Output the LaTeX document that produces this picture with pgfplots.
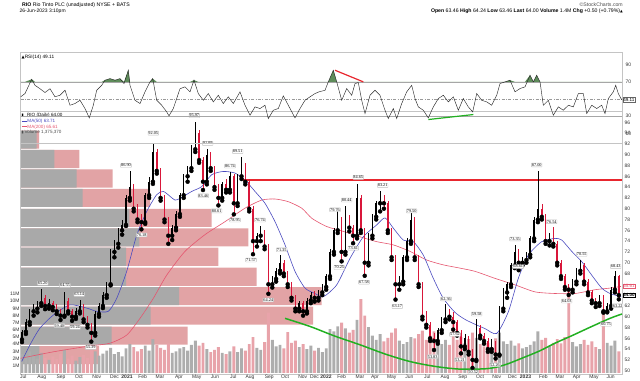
\documentclass[border=0pt]{standalone}
\usepackage{fontspec}
\setmainfont{Liberation Sans}
\newfontfamily\serif{Liberation Serif}
\newfontfamily\sym{DejaVu Sans}
\usepackage{pgfplots}
\pgfplotsset{compat=1.18}
\usepackage{pgfplotstable}
\definecolor{dnc}{HTML}{D9173A}
\definecolor{volg}{HTML}{ADADAD}
\definecolor{volp}{HTML}{E8A3AA}
\definecolor{profg}{HTML}{A9A9A9}
\definecolor{profp}{HTML}{E2A3A5}
\definecolor{ma50}{HTML}{4A4ABF}
\definecolor{ma200}{HTML}{E5566F}
\definecolor{frame}{HTML}{C4C4C4}
\definecolor{rsig}{HTML}{5E8C5A}
\definecolor{trendg}{HTML}{22B022}
\definecolor{trendr}{HTML}{E8262E}
\newcommand\fs[1]{\fontsize{#1}{#1}\selectfont}

\pgfplotstableread{
x o h l c v
22.0 55.8 57.6 55.3 57.2 2.6
25.9 57.2 59.6 56.8 59.0 2.2
29.7 59.0 61.5 58.5 61.0 3.0
33.6 61.0 62.3 60.2 61.5 2.4
37.4 61.5 63.0 60.8 62.5 2.0
41.3 62.5 65.2 62.0 63.5 2.8
49.0 62.0 63.3 61.5 62.5 1.8
64.4 60.2 64.55 60.0 63.0 3.2
75.9 60.0 61.6 59.6 61.0 1.7
79.8 61.0 63.14 60.6 62.0 2.2
95.2 57.0 61.0 56.5 60.5 3.0
99.0 60.5 62.5 60.0 62.0 2.4
102.9 62.0 64.5 61.6 64.0 2.7
106.7 64.0 66.5 63.5 66.0 3.1
110.6 66.0 72.5 65.8 72.0 3.5
114.4 72.0 74.2 71.0 73.5 2.6
118.3 73.5 76.5 72.8 76.0 2.9
122.1 76.0 78.0 75.2 77.0 2.3
126.0 77.0 82.5 76.8 82.0 3.4
129.8 82.0 86.9 81.5 84.0 4.0
145.2 77.5 83.0 77.2 82.5 3.8
149.1 82.5 85.8 82.0 85.0 3.1
152.9 85.0 92.05 84.6 90.5 4.7
172.2 75.0 77.0 74.2 76.5 2.8
176.0 76.5 79.5 76.0 79.0 3.0
179.9 79.0 83.0 78.5 82.5 3.4
183.7 82.5 86.5 82.0 86.0 3.6
187.6 86.0 88.0 85.0 87.5 3.1
191.4 87.5 91.8 87.0 91.0 3.9
195.3 91.0 95.97 90.5 94.0 4.5
206.8 85.0 91.09 84.5 90.0 3.3
222.2 82.0 85.0 81.5 84.5 2.8
229.9 83.5 86.74 83.0 86.0 3.0
237.6 81.0 86.5 80.5 86.0 2.9
241.5 86.0 89.51 85.5 88.0 3.4
256.9 74.0 75.5 73.0 75.0 3.5
260.7 75.0 76.74 74.0 75.5 3.2
272.3 66.0 67.6 65.4 67.0 4.6
276.1 67.0 69.0 66.5 68.5 3.7
280.0 68.5 71.35 68.0 70.0 3.9
299.2 61.5 63.0 61.0 62.5 3.6
306.9 61.0 63.5 60.6 63.0 3.3
310.8 63.0 64.6 62.5 64.0 3.8
318.5 63.5 65.0 63.0 64.5 3.5
322.3 64.5 66.0 64.0 65.5 2.9
326.2 65.5 68.0 65.0 67.5 3.4
330.0 67.5 72.5 67.0 72.0 6.1
333.9 72.0 76.5 71.5 76.0 5.8
337.7 76.0 79.76 75.5 78.0 6.5
345.4 72.0 80.44 71.5 78.0 6.2
357.0 75.0 84.65 74.5 82.0 7.4
368.5 70.0 75.5 69.5 75.0 6.4
372.4 75.0 79.0 74.5 78.5 5.2
376.2 78.5 81.5 78.0 81.0 4.6
380.1 81.0 83.21 79.5 81.5 5.4
399.3 66.0 67.5 65.0 66.5 4.5
403.2 66.5 71.5 66.0 71.0 4.0
407.0 71.0 74.5 70.5 74.0 4.3
410.9 74.0 79.5 73.5 78.0 5.0
437.8 55.5 58.0 55.0 57.5 4.3
441.7 57.5 60.0 57.0 59.5 4.0
445.5 59.5 62.36 59.0 61.0 4.6
464.8 54.5 56.8 54.0 56.0 4.1
476.3 52.0 59.58 51.8 58.0 4.9
491.7 54.0 55.8 53.5 55.0 3.6
499.4 53.0 62.0 52.8 61.5 5.6
503.3 61.5 65.3 61.0 64.5 4.4
507.1 64.5 66.5 63.5 66.0 4.0
511.0 66.0 70.0 65.5 69.5 4.5
514.8 69.5 73.35 69.0 72.0 3.8
522.5 70.0 71.0 69.5 70.5 3.4
526.4 70.5 72.0 70.0 71.5 3.6
530.2 71.5 75.0 71.0 74.5 3.9
534.1 74.5 78.5 74.0 78.0 4.4
537.9 78.0 87.00 77.5 80.0 5.8
549.5 74.0 75.5 73.2 74.5 3.8
572.6 65.0 67.0 64.5 66.5 4.3
576.4 66.5 69.0 66.0 68.5 3.7
580.3 68.5 70.55 68.0 69.5 4.0
599.5 62.5 64.0 62.0 63.5 3.3
607.2 61.0 62.5 60.8 62.0 4.2
611.1 62.0 65.5 61.5 65.0 3.8
614.9 65.0 68.43 64.5 67.5 4.5
}\tabup

\pgfplotstableread{
x o h l c v
45.1 63.5 64.0 61.4 62.0 2.1
52.8 62.5 63.0 61.2 61.8 2.3
56.7 61.8 62.4 60.5 61.0 1.9
60.5 61.0 61.5 59.4 60.2 2.6
68.2 63.0 63.4 60.6 61.0 2.0
72.1 61.0 61.4 59.24 60.0 2.4
83.6 62.0 62.3 59.0 59.5 2.5
87.5 59.5 60.2 58.0 58.5 2.1
91.3 58.5 58.9 55.39 57.0 3.8
133.7 84.0 84.5 79.5 80.0 3.6
137.5 80.0 80.8 77.5 78.0 3.0
141.4 78.0 79.0 76.18 77.5 3.3
156.8 90.5 91.0 86.5 87.0 3.9
160.6 87.0 87.5 81.5 82.0 3.5
164.5 82.0 82.5 77.5 78.0 3.2
168.3 78.0 78.5 73.5 75.0 4.1
199.1 94.0 94.5 88.5 89.0 3.8
203.0 89.0 89.5 83.46 85.0 4.2
210.7 90.0 90.5 87.0 87.5 2.9
214.5 87.5 88.0 83.5 84.0 3.2
218.4 84.0 84.5 80.61 82.0 3.6
226.1 84.5 85.5 83.0 83.5 2.6
233.8 86.0 86.4 78.95 81.0 3.7
245.3 88.0 88.5 84.5 85.0 3.1
249.2 85.0 85.5 79.5 80.0 4.0
253.0 80.0 80.5 71.57 74.0 5.0
264.6 75.5 76.0 72.5 73.0 4.3
268.4 73.0 73.5 64.24 66.0 8.4
283.8 70.0 70.5 67.5 68.0 3.4
287.7 68.0 68.5 65.5 66.0 5.7
291.5 66.0 66.5 63.0 63.5 4.2
295.4 63.5 64.0 61.0 61.5 4.5
303.1 62.5 63.0 60.2 61.0 4.0
314.6 64.0 64.8 62.8 63.5 3.1
341.6 78.0 78.5 70.25 72.0 7.0
349.3 78.0 78.8 75.8 76.5 5.6
353.1 76.5 77.0 73.61 75.0 6.0
360.8 82.0 82.5 75.5 76.0 10.3
364.7 76.0 76.5 67.58 70.0 8.0
383.9 81.5 82.5 80.0 81.0 4.4
387.8 81.0 81.5 75.5 76.0 4.9
391.6 76.0 76.5 70.5 71.0 5.6
395.5 71.0 71.5 63.17 66.0 6.2
414.7 78.0 78.5 70.5 71.0 4.8
418.6 71.0 71.5 65.5 66.0 5.4
422.4 66.0 66.5 59.5 60.0 5.9
426.3 60.0 61.0 58.0 58.5 4.6
430.1 58.5 59.0 55.5 56.0 5.2
434.0 56.0 57.0 53.83 55.5 5.8
449.4 61.0 61.5 59.5 60.0 3.9
453.2 60.0 60.8 57.62 59.0 7.0
457.1 59.0 59.3 56.5 57.0 4.6
460.9 57.0 57.5 53.21 54.5 5.0
468.6 56.0 56.5 53.0 53.5 4.7
472.5 53.5 54.0 50.52 52.0 5.6
480.2 58.0 58.5 56.0 56.5 4.0
484.0 56.5 57.0 55.0 55.5 3.7
487.9 55.5 56.0 53.5 54.0 4.2
495.6 55.0 55.5 52.26 53.0 4.8
518.7 72.0 72.5 68.61 70.0 4.1
541.8 80.0 80.8 78.0 78.5 4.6
545.6 78.5 79.0 73.5 74.0 4.9
553.3 74.5 76.54 73.0 73.5 4.2
557.2 73.5 74.0 69.5 70.0 4.7
561.0 70.0 70.5 67.0 67.5 4.1
564.9 67.5 68.0 65.0 65.5 5.0
568.7 65.5 66.0 64.03 65.0 12.0
584.1 69.5 70.0 66.0 66.5 4.6
588.0 66.5 67.0 64.0 64.5 3.9
591.8 64.5 65.0 62.5 63.0 4.4
595.7 63.0 63.5 61.8 62.5 3.6
603.4 63.5 64.0 60.75 61.0 8.6
618.8 67.5 67.8 63.22 64.0 3.0
}\tabdn

\pgfplotstableread{
p g k
52.9 39.3 99.0
56.5 111.7 187.7
60.2 150.7 313.0
63.8 179.0 321.7
67.4 126.0 256.7
71.1 126.0 218.3
74.7 139.3 248.3
78.3 129.3 211.7
82.0 82.7 150.0
85.6 76.7 112.7
89.2 54.3 79.3
92.8 36.7 39.0
}\tabprof

\pgfplotstableread{
x r
20.7 52.6
25 56.4
31.7 73.0
35 66
40 62
45 57.6
50 62
55 52.6
60 54.5
65 60.3
70 42.8
75 44.8
80 48.6
85 39
89.3 28.1
93.3 42.8
96.7 60.2
101.7 66
105 71.9
110 73.8
115 71.9
120 73.8
124 68
128.3 83.5
130 66
135 48.6
140 44.8
145 58.4
150 70
152.7 73.8
156.7 48.6
161.7 42.8
166.7 35.1
169 30.5
173.3 39
180 62
185 64.2
190 58.4
194 72
198.3 56.4
203.3 48.6
208.3 56.4
213.3 46.7
218.3 54.4
223.3 44.8
228.3 52.6
233.3 44.8
240 58.4
245 42.8
250 31.2
255 40.9
260 39
265 42.8
268.3 27.3
273.3 37
278.3 39
283.3 53.7
288.3 42.8
295 28.1
300 39
305 48.6
310 52.6
315 56.4
319 58.4
325 60.2
328.3 70
333.3 83.5
336.7 70
341.7 48.6
346.7 62.2
351.7 54.4
355 68
358.3 69.2
361.7 48.6
365 33.1
370 54.4
375 60.2
380 54.4
385 37
388.3 27.3
393.3 39
396.7 27.3
401.7 44.8
406.7 58.4
411.7 66
415 50.6
418.3 40.9
423.3 37
428.3 28.1
433.3 40.9
438.3 50.6
443.3 54.4
448.3 46.7
453.3 52.6
458.3 37
463.3 50.6
468.3 40.9
472.7 35.1
476.7 56.4
481.7 48.6
486.7 46.7
491.7 42.8
496.7 54.4
500 68
505 70
510 71.9
515 58.4
520 62.2
525 64.2
530 77.7
533.3 70
536.7 77.7
540 70
543.3 42.8
548.3 48.6
553.3 31.2
558.3 40.9
563.3 37
568.3 42.8
573.3 40.9
578.3 56.4
583.3 56.4
586.7 33.1
591.7 42.8
596.7 39
601.7 42.8
605 33.1
608.3 50.6
613.3 58.4
615.7 66
618.3 56.4
621.7 49.1
}\tabrsi

\pgfplotsset{
  panel/.style={scale only axis, width=601.3bp, xmin=20.7, xmax=622,
    anchor=south west, major tick length=0pt,
    tick label style={font=\fs{5}, text=black!80},
    /pgf/number format/assume math mode=true},
}
\tikzset{
  ann/.style={draw=black!25, fill=white, inner sep=0.5pt, rounded corners=0.4pt,
    font=\serif\fs{4.3}},
}

\begin{document}
\begin{tikzpicture}[x=1bp,y=1bp]
\path[use as bounding box] (0,0) rectangle (640,380);

% volume profile
\begin{axis}[panel, at={(20.7,10)}, height=263.3bp, ymin=49.28, ymax=98.04, hide axis]
\addplot[xbar, bar width=3.35, fill=profp, draw=none] table[x=k,y=p] \tabprof;
\addplot[xbar, bar width=3.35, fill=profg, draw=none] table[x=g,y=p] \tabprof;
\end{axis}

% volume
\begin{axis}[panel, at={(20.7,10)}, height=263.3bp, ymin=0, ymax=36.77,
  axis line style={draw=none}, xtick=\empty,
  ytick={1,2,3,4,5,6,7,8,9,10,11},
  yticklabels={1M,2M,3M,4M,5M,6M,7M,8M,9M,10M,11M},
  yticklabel style={inner sep=1pt}]
\addplot[ybar, bar width=2.9, fill=volg, draw=none] table[x=x,y=v] \tabup;
\addplot[ybar, bar width=2.9, fill=volp, draw=none] table[x=x,y=v] \tabdn;
\end{axis}

% price
\begin{axis}[panel, at={(20.7,10)}, height=263.3bp, ymin=49.28, ymax=98.04,
  clip mode=individual,
  axis line style={draw=frame, line width=0.5pt},
  ytick={50,52,54,56,58,60,62,68,70,72,74,76,78,80,82,84,86,88,90,92,94,96},
  yticklabel pos=right, yticklabel style={anchor=west, inner sep=1pt, xshift=1.5bp},
  xtick={23.3,41.7,61,79,96.7,114.5,127,142.7,160,179,196.7,215,233.3,250,269.3,285,302.7,314.5,326,341.7,360,375,391.7,409.3,427.3,445,462.7,480,496.7,512.5,525.5,543.3,560,576.7,594,610.7},
  xticklabels={Jul,Aug,Sep,Oct,Nov,Dec,\textbf{2021},Feb,Mar,Apr,May,Jun,Jul,Aug,Sep,Oct,Nov,Dec,\textbf{2022},Feb,Mar,Apr,May,Jun,Jul,Aug,Sep,Oct,Nov,Dec,\textbf{2023},Feb,Mar,Apr,May,Jun},
  xticklabel style={inner sep=1pt, yshift=0.5bp}]
% moving averages
\addplot[ma200, line width=0.6pt, smooth, tension=0.4] coordinates {
(20.7,52.3) (53.3,53.5) (86.7,54.5) (110,55.1) (126.7,56.6) (140,59.7) (153.3,63.4)
(166.7,67.7) (185,72.1) (205,75.2) (225,77.6) (245,80.1) (261.7,81.6) (275,81.8)
(288.3,81.3) (301.7,80.1) (312,78.2) (326.7,76.7) (343.3,75.8) (360,74.8) (376.7,73.9)
(393.3,73.3) (410,72.1) (426.7,70.5) (443.3,69.6) (460,69.0) (475,68.4) (495,67.1)
(515,65.9) (535,64.6) (555,64.3) (575,64.3) (595,65.0) (610,65.3) (621,65.61)};
\addplot[ma50, line width=0.6pt, smooth, tension=0.4] coordinates {
(21.7,51.7) (30,54.8) (40,57.9) (53.3,60.3) (70,62.2) (86.7,61.6) (96.7,61.0)
(108.3,61.0) (116.7,63.4) (126.7,68.4) (136.7,75.1) (146.7,79.5) (156.7,82.6)
(163.3,83.2) (170,82.3) (175,81.6) (180,81.9) (191.7,83.2) (201.7,84.1) (211.7,86.3)
(223.3,86.9) (235,86.6) (245,85.3) (255,83.2) (265,81.0) (275,77.6) (285,73.3)
(295,68.4) (305,65.3) (315,64.3) (323.3,63.7) (336.7,65.9) (350,70.8) (363.3,74.8)
(376.7,77.0) (385,78.3) (393.3,76.4) (403.3,74.2) (413.3,73.9) (423.3,71.4)
(433.3,67.1) (443.3,63.4) (455,60.8) (465,59.5) (475,58.6) (485,57.8) (496.7,56.9)
(508.3,60.9) (518.3,67.1) (528.3,71.4) (541.7,73.9) (555,74.5) (561.7,74.2)
(571.7,72.1) (581.7,70.2) (591.7,67.7) (601.7,65.3) (610,64.3) (621,63.71)};
% trend lines
\addplot[trendr, line width=1.6pt] coordinates {(243,85.3) (622,85.3)};
\addplot[trendg, line width=1.5pt, smooth, tension=0.5] coordinates {
(285,59.7) (310,58.2) (335,56.4) (360,54.8) (385,53.1) (410,51.7) (435,50.8)
(460,50.3) (488,50.4) (505,51.1) (521.7,52.3) (540,53.7) (555,55.1) (572,56.5)
(588.3,57.9) (610,59.7) (622,60.5)};
% candles: wicks
\addplot[only marks, mark=none, error bars/.cd, y dir=plus, y explicit, error mark=none,
  error bar style={draw=black, line width=0.45pt}]
  table[x=x, y=l, y error expr=\thisrow{h}-\thisrow{l}] \tabup;
\addplot[only marks, mark=none, error bars/.cd, y dir=plus, y explicit, error mark=none,
  error bar style={draw=dnc, line width=0.45pt}]
  table[x=x, y=l, y error expr=\thisrow{h}-\thisrow{l}] \tabdn;
% candles: bodies
\addplot[only marks, mark=none, error bars/.cd, y dir=plus, y explicit, error mark=none,
  error bar style={draw=black, line width=1.5pt}]
  table[x=x, y=o, y error expr=\thisrow{c}-\thisrow{o}] \tabup;
\addplot[only marks, mark=none, error bars/.cd, y dir=plus, y explicit, error mark=none,
  error bar style={draw=dnc, line width=1.5pt}]
  table[x=x, y=c, y error expr=\thisrow{o}-\thisrow{c}] \tabdn;
% annotations
\node[ann] at (axis cs:42.7,66.2) {65.20};
\node[ann] at (axis cs:65,65.8) {64.55};
\node[ann] at (axis cs:79.3,64.15) {63.14};
\node[ann] at (axis cs:59.3,58.35) {59.40};
\node[ann] at (axis cs:75,58.0) {59.24};
\node[ann] at (axis cs:90.7,54.3) {55.39};
\node[ann] at (axis cs:126,88.0) {86.90};
\node[ann] at (axis cs:141.7,75.15) {76.18};
\node[ann] at (axis cs:153.3,94.0) {92.05};
\node[ann] at (axis cs:194.3,97.25) {95.97};
\node[ann] at (axis cs:207.7,92.1) {91.09};
\node[ann] at (axis cs:203.3,82.4) {83.46};
\node[ann] at (axis cs:216.7,79.6) {80.61};
\node[ann] at (axis cs:230,87.9) {86.74};
\node[ann] at (axis cs:237.7,90.6) {89.51};
\node[ann] at (axis cs:235,77.9) {78.95};
\node[ann] at (axis cs:260,77.9) {76.74};
\node[ann] at (axis cs:251,70.5) {71.57};
\node[ann] at (axis cs:281.7,72.4) {71.35};
\node[ann] at (axis cs:268.3,63.1) {64.24};
\node[ann] at (axis cs:335,79.8) {79.76};
\node[ann] at (axis cs:346.7,81.6) {80.44};
\node[ann] at (axis cs:358.3,85.8) {84.65};
\node[ann] at (axis cs:382.7,84.3) {83.21};
\node[ann] at (axis cs:339.3,69.1) {70.25};
\node[ann] at (axis cs:353.3,72.7) {73.61};
\node[ann] at (axis cs:364,66.4) {67.58};
\node[ann] at (axis cs:411.7,79.6) {79.50};
\node[ann] at (axis cs:397.3,61.9) {63.17};
\node[ann] at (axis cs:446,63.3) {62.36};
\node[ann] at (axis cs:455,56.7) {57.62};
\node[ann] at (axis cs:432.7,52.6) {53.83};
\node[ann] at (axis cs:460,52.05) {53.21};
\node[ann] at (axis cs:476.7,60.5) {59.58};
\node[ann] at (axis cs:473.3,49.75) {50.52};
\node[ann] at (axis cs:495,51.1) {52.26};
\node[ann] at (axis cs:515,74.4) {73.35};
\node[ann] at (axis cs:518.3,69.3) {68.61};
\node[ann] at (axis cs:536.7,88.1) {87.00};
\node[ann] at (axis cs:551.7,77.6) {76.54};
\node[ann] at (axis cs:566.7,62.9) {64.03};
\node[ann] at (axis cs:581.7,71.55) {70.55};
\node[ann] at (axis cs:606,58.6) {60.75};
\node[ann] at (axis cs:615.7,69.3) {68.43};
\node[ann] at (axis cs:617.7,62.05) {63.22};
% legend
\node[anchor=west, font=\fs{4.6}, inner sep=0.5pt] at (axis cs:21,97.25) {{\sym\fs{3.8}▮}\,\_RIO (Daily) 64.00};
\node[anchor=west, font=\fs{4.6}, inner sep=0.5pt, text=ma50] at (axis cs:21,96.2) {\rule[1pt]{5bp}{0.6pt}\,MA(50) 63.71};
\node[anchor=west, font=\fs{4.6}, inner sep=0.5pt, text=ma200] at (axis cs:21,95.15) {\rule[1pt]{5bp}{0.6pt}\,MA(200) 65.61};
\node[anchor=west, font=\fs{4.6}, inner sep=0.5pt, text=black!70] at (axis cs:21,94.1) {{\sym\fs{3.8}▮}\,Volume 1,375,370};
% right boxes
\node[anchor=west, draw=ma200, fill=white, inner sep=0.6pt, font=\fs{4.6}, text=ma200] at (axis cs:622.5,65.61) {65.61};
\node[anchor=west, draw=black, fill=white, inner sep=0.6pt, font=\bfseries\fs{4.6}] at (axis cs:622.5,64.0) {64.00};
\end{axis}

% RSI
\begin{axis}[panel, at={(20.7,275.5)}, height=90.5bp, ymin=-1.16, ymax=104.07,
  clip mode=individual,
  axis line style={draw=frame, line width=0.5pt}, xtick=\empty,
  ytick={10,30,70,90}, yticklabel pos=right,
  yticklabel style={anchor=west, inner sep=1pt, xshift=2.5bp}]
\addplot[black!35, line width=0.5pt] coordinates {(20.7,70) (622,70)};
\addplot[black!35, line width=0.5pt] coordinates {(20.7,30) (622,30)};
\addplot[black!40, line width=0.5pt, dash pattern=on 3pt off 1.5pt on 0.8pt off 1.5pt] coordinates {(20.7,50) (622,50)};
\addplot[fill=rsig, draw=none] table[x=x, y expr={max(\thisrow{r},70)}] \tabrsi -- (axis cs:621.7,70) -- (axis cs:20.7,70) -- cycle;
\addplot[black!85, line width=0.45pt] table[x=x,y=r] \tabrsi;
\addplot[trendr, line width=1.2pt] coordinates {(335,83.5) (363.3,70)};
\addplot[trendg, line width=1.2pt] coordinates {(428.3,26.2) (473.3,32)};
\node[anchor=west, draw=black!60, fill=white, inner sep=0.6pt, font=\fs{4.6}] at (axis cs:622.5,49.11) {49.11};
\node[anchor=west, font=\fs{4.8}, inner sep=0.5pt] at (axis cs:21,99) {{\sym\fs{4}▲}RSI(14) 49.11};
\end{axis}

% header
\node[anchor=west, font=\fs{5.2}, inner sep=0] at (22,375) {\textbf{RIO} Rio Tinto PLC (unadjusted) NYSE + BATS};
\node[anchor=west, font=\fs{5}, inner sep=0] at (19.5,369) {26-Jun-2023 3:10pm};
\node[anchor=east, font=\fs{5.2}, inner sep=0, text=black!70] at (623,375) {©StockCharts.com};
\node[anchor=east, font=\fs{5.2}, inner sep=0] at (623,369) {\textbf{Open} 63.46 \textbf{High} 64.24 \textbf{Low} 63.46 \textbf{Last} 64.00 \textbf{Volume} 1.4M \textbf{Chg} +0.50 (+0.79\%){\sym\fs{3.5}▲}};
\end{tikzpicture}
\end{document}
